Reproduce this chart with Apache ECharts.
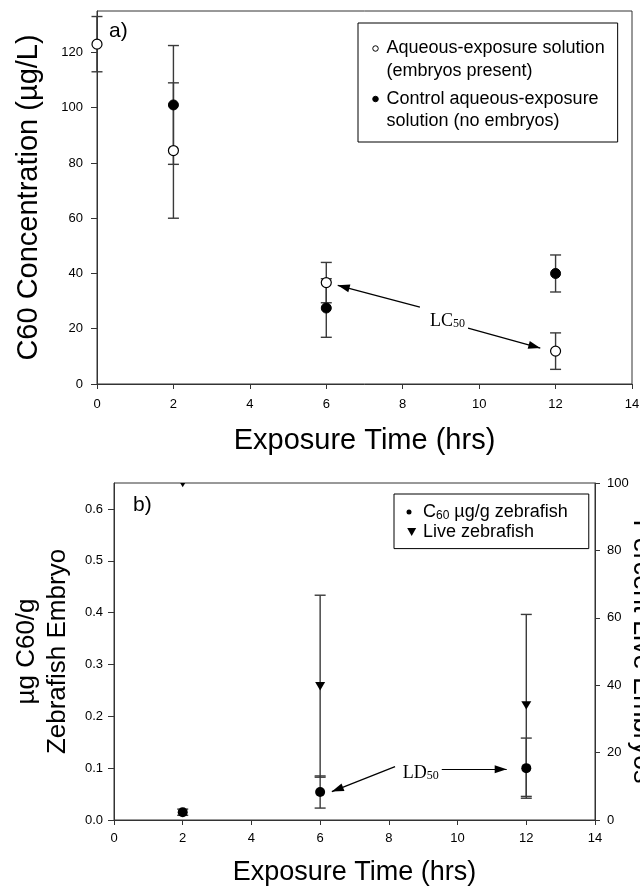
<!DOCTYPE html>
<html><head><meta charset="utf-8">
<script src="https://cdn.jsdelivr.net/npm/echarts@6/dist/echarts.min.js"></script>
<style>html,body{margin:0;padding:0;background:#fff}#c{width:640px;height:888px}</style>
</head><body><div id="c"></div>
<script>
// ---------- Panel a data ----------
const timeAqueous = [0, 2, 6, 12];
const aqueousMean = [123, 84.5, 36.7, 11.9];
const aqueousErr  = [10, 24.5, 7.3, 6.6];
const timeControl = [2, 6, 12];
const controlMean = [101, 27.5, 40];
const controlErr  = [21.5, 10.6, 6.7];
// ---------- Panel b data ----------
const timeB   = [2, 6, 12];
const c60Mean = [0.015, 0.054, 0.100];
const c60Err  = [0.006, 0.031, 0.058];
const liveMean = [100, 39.7, 34];
const liveErr  = [0, 27, 27];
// ---------- tick labels ----------
const yTicksA = [0, 20, 40, 60, 80, 100, 120];
const yTicksBLeft = [0, 0.1, 0.2, 0.3, 0.4, 0.5, 0.6];
// ---------- annotations (data coords) ----------
const lcArrows = [[[8.45, 27.8], [6.30, 35.7]], [[9.71, 20.2], [11.60, 13.0]]];
const lcLabel = [9.17, 22.7];
const ldArrows = [[[8.18, 0.103], [6.34, 0.0548]], [[9.54, 0.098], [11.43, 0.098]]];
const ldLabel = [8.93, 0.091];

const NAME_AQ = 'Aqueous-exposure solution (embryos present)';
const NAME_CT = 'Control aqueous-exposure solution (no embryos)';
const NAME_C60 = 'C60 µg/g zebrafish';
const NAME_LIVE = 'Live zebrafish';

const FF = "'Liberation Sans', Arial, Helvetica, sans-serif";
const SERIF = "'Liberation Serif', 'Times New Roman', serif";
const AX = '#333';
const ARROW = 'path://M-12,-12 M12,12 M0,0 L4,12 L-4,12 Z';

function errBars(id, xIdx, yIdx, times, means, errs, clip) {
  const d = [];
  times.forEach((t, i) => { if (errs[i] > 0) d.push([t, means[i] - errs[i], means[i] + errs[i]]); });
  return {
    type: 'custom', id, xAxisIndex: xIdx, yAxisIndex: yIdx, z: 1, silent: true, clip: !!clip,
    encode: {x: 0, y: [1, 2]}, data: d,
    renderItem(params, api) {
      const top = api.coord([api.value(0), api.value(2)]);
      const bot = api.coord([api.value(0), api.value(1)]);
      const hw = 5.5, st = {stroke: '#3a3a3a', lineWidth: 1.4};
      return {type: 'group', children: [
        {type: 'line', shape: {x1: top[0], y1: top[1], x2: bot[0], y2: bot[1]}, style: st},
        {type: 'line', shape: {x1: top[0] - hw, y1: top[1], x2: top[0] + hw, y2: top[1]}, style: st},
        {type: 'line', shape: {x1: bot[0] - hw, y1: bot[1], x2: bot[0] + hw, y2: bot[1]}, style: st}
      ]};
    }
  };
}

function arrowLines(arr) {
  return {
    silent: true, animation: false,
    symbol: ['none', ARROW], symbolSize: 24,
    lineStyle: {color: '#000', width: 1.2, type: 'solid'},
    label: {show: false},
    emphasis: {disabled: true},
    data: arr.map(a => [{coord: a[0]}, {coord: a[1]}])
  };
}

function subLabel(coord, main, sub) {
  return {
    silent: true, animation: false,
    data: [{
      coord, symbol: 'rect', symbolSize: 1, itemStyle: {color: 'rgba(0,0,0,0)'},
      label: {
        show: true, position: 'inside', formatter: '{m|' + main + '}{s|' + sub + '}',
        rich: {
          m: {fontFamily: SERIF, fontSize: 18, color: '#000', lineHeight: 18},
          s: {fontFamily: SERIF, fontSize: 12, color: '#000', lineHeight: 10, verticalAlign: 'bottom'}
        }
      }
    }]
  };
}

function xAxisCfg(grid, nameSize, gap, margin) {
  return {
    gridIndex: grid, type: 'value', min: 0, max: 14, interval: 2,
    axisLine: {show: true, onZero: false, lineStyle: {color: AX, width: 1}},
    axisTick: {show: true, inside: false, length: 5, lineStyle: {color: AX}},
    axisLabel: {show: true, fontSize: 13, color: '#000', margin, fontFamily: FF},
    splitLine: {show: false},
    name: 'Exposure Time (hrs)', nameLocation: 'middle', nameGap: gap, nameMoveOverlap: false,
    nameTextStyle: {fontSize: nameSize, color: '#000', fontFamily: FF}
  };
}

const chart = echarts.init(document.getElementById('c'), null, {renderer: 'canvas'});
chart.setOption({
  animation: false,
  backgroundColor: '#fff',
  title: [
    {text: 'a)', left: 109, top: 21, padding: 0, textStyle: {fontSize: 21, fontWeight: 'normal', color: '#000', fontFamily: FF}},
    {text: 'b)', left: 133, top: 495, padding: 0, textStyle: {fontSize: 21, fontWeight: 'normal', color: '#000', fontFamily: FF}}
  ],
  grid: [
    {left: 97, top: 11, right: 8, bottom: 504, show: true, borderColor: AX, borderWidth: 1,
     containLabel: false, outerBoundsMode: 'none'},
    {left: 114, top: 483, right: 45, bottom: 68, show: true, borderColor: AX, borderWidth: 1,
     containLabel: false, outerBoundsMode: 'none'}
  ],
  xAxis: [xAxisCfg(0, 29, 42, 14), xAxisCfg(1, 27, 39, 12)],
  yAxis: [
    {gridIndex: 0, type: 'value', min: 0, max: 135,
     axisLine: {show: true, onZero: false, lineStyle: {color: AX}},
     axisTick: {show: true, inside: false, length: 6, lineStyle: {color: AX}, customValues: yTicksA},
     axisLabel: {show: true, customValues: yTicksA, fontSize: 13, color: '#000', margin: 14, fontFamily: FF},
     splitLine: {show: false},
     name: 'C60 Concentration (µg/L)', nameLocation: 'middle', nameRotate: 90, nameGap: 54, nameMoveOverlap: false,
     nameTextStyle: {fontSize: 29, color: '#000', fontFamily: FF}},
    {gridIndex: 1, type: 'value', min: 0, max: 0.65, position: 'left',
     axisLine: {show: true, onZero: false, lineStyle: {color: AX}},
     axisTick: {show: true, inside: false, length: 6, lineStyle: {color: AX}, customValues: yTicksBLeft},
     axisLabel: {show: true, customValues: yTicksBLeft, fontSize: 13, color: '#000', margin: 11, fontFamily: FF,
       formatter: v => v.toFixed(1)},
     splitLine: {show: false},
     name: 'µg C60/g\nZebrafish Embryo', nameLocation: 'middle', nameRotate: 90, nameGap: 41, nameMoveOverlap: false,
     nameTextStyle: {fontSize: 26, lineHeight: 31, color: '#000', fontFamily: FF}},
    {gridIndex: 1, type: 'value', min: 0, max: 100, interval: 20, position: 'right',
     axisLine: {show: true, onZero: false, lineStyle: {color: AX}},
     axisTick: {show: true, inside: false, length: 5, lineStyle: {color: AX}},
     axisLabel: {show: true, fontSize: 13, color: '#000', margin: 12, fontFamily: FF},
     splitLine: {show: false},
     name: 'Percent Live Embryos', nameLocation: 'middle', nameRotate: -90, nameGap: 33, nameMoveOverlap: false,
     nameTextStyle: {fontSize: 27, color: '#000', fontFamily: FF}}
  ],
  legend: [
    {orient: 'vertical', left: 358, top: 23, itemWidth: 12, itemHeight: 45, itemGap: 4.5,
     padding: [13.75, 13, 8.75, 11], borderColor: '#000', borderWidth: 1, backgroundColor: '#fff',
     selectedMode: false, itemStyle: {borderWidth: 1},
     textStyle: {fontSize: 18, lineHeight: 22.5, color: '#000', fontFamily: FF},
     formatter: n => n === NAME_AQ ? 'Aqueous-exposure solution\n(embryos present)' : 'Control aqueous-exposure\nsolution (no embryos)',
     data: [
       {name: NAME_AQ, icon: 'path://M0,0 M12,45 M3.25,11.25 A2.75,2.75 0 1,0 8.75,11.25 A2.75,2.75 0 1,0 3.25,11.25 Z'},
       {name: NAME_CT, icon: 'path://M0,0 M12,45 M3.25,11.25 A2.75,2.75 0 1,0 8.75,11.25 A2.75,2.75 0 1,0 3.25,11.25 Z'}
     ]},
    {orient: 'vertical', left: 394, top: 494, itemWidth: 14, itemHeight: 10, itemGap: 0,
     padding: [8, 21, 6.6, 10], borderColor: '#000', borderWidth: 1, backgroundColor: '#fff',
     selectedMode: false, itemStyle: {borderWidth: 0},
     textStyle: {fontSize: 18, lineHeight: 20, color: '#000', fontFamily: FF,
       rich: {
         n: {fontSize: 18, lineHeight: 20, fontFamily: FF, color: '#000'},
         s: {fontSize: 12, lineHeight: 12, fontFamily: FF, color: '#000', verticalAlign: 'bottom'}
       }},
     formatter: n => n === NAME_C60 ? '{n|C}{s|60}{n| µg/g zebrafish}' : '{n|Live zebrafish}',
     data: [
       {name: NAME_C60, icon: 'path://M0,0 M14,10 M2.5,5 A2.5,2.5 0 1,0 7.5,5 A2.5,2.5 0 1,0 2.5,5 Z'},
       {name: NAME_LIVE, icon: 'path://M0,0 M14,10 M3.2,1 L12.2,1 L7.7,9 Z'}
     ]}
  ],
  series: [
    errBars('errAq', 0, 0, timeAqueous, aqueousMean, aqueousErr),
    errBars('errCt', 0, 0, timeControl, controlMean, controlErr),
    {type: 'scatter', name: NAME_AQ, xAxisIndex: 0, yAxisIndex: 0, z: 3, symbol: 'circle', symbolSize: 10,
     itemStyle: {color: '#fff', borderColor: '#000', borderWidth: 1.2, opacity: 1},
     data: timeAqueous.map((t, i) => [t, aqueousMean[i]]),
     markLine: arrowLines(lcArrows),
     markPoint: subLabel(lcLabel, 'LC', '50')},
    {type: 'scatter', name: NAME_CT, xAxisIndex: 0, yAxisIndex: 0, z: 4, symbol: 'circle', symbolSize: 10,
     itemStyle: {color: '#000', borderColor: '#000', borderWidth: 1, opacity: 1},
     data: timeControl.map((t, i) => [t, controlMean[i]])},
    errBars('errC60', 1, 1, timeB, c60Mean, c60Err),
    errBars('errLive', 1, 2, timeB, liveMean, liveErr, true),
    {type: 'scatter', name: NAME_C60, xAxisIndex: 1, yAxisIndex: 1, z: 3, symbol: 'circle', symbolSize: 10,
     itemStyle: {color: '#000', borderColor: '#000', borderWidth: 0, opacity: 1},
     data: timeB.map((t, i) => [t, c60Mean[i]]),
     markLine: arrowLines(ldArrows),
     markPoint: subLabel(ldLabel, 'LD', '50')},
    {type: 'custom', name: NAME_LIVE, xAxisIndex: 1, yAxisIndex: 2, z: 3, clip: true,
     itemStyle: {color: '#000'},
     encode: {x: 0, y: 1},
     data: timeB.map((t, i) => [t, liveMean[i]]),
     renderItem(params, api) {
       const p = api.coord([api.value(0), api.value(1)]);
       return {type: 'polygon', shape: {points: [[p[0] - 5, p[1] - 4.2], [p[0] + 5, p[1] - 4.2], [p[0], p[1] + 4.2]]},
               style: {fill: '#000'}};
     }}
  ]
});
</script>
</body></html>
